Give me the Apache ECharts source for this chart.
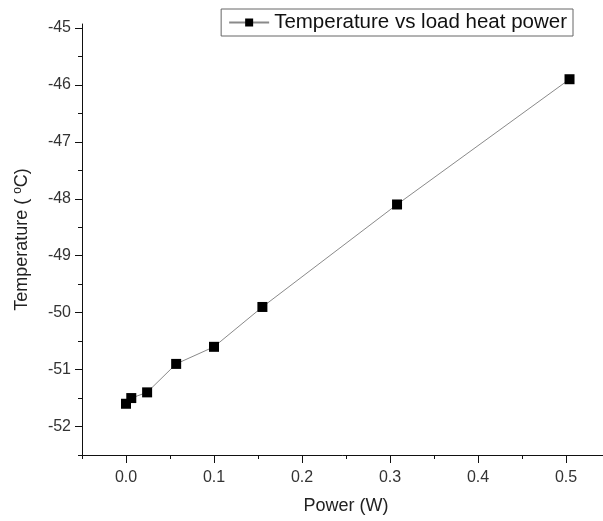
<!DOCTYPE html>
<html>
<head>
<meta charset="utf-8">
<script src="https://cdn.jsdelivr.net/npm/echarts@6/dist/echarts.min.js"></script>
<style>html,body{margin:0;padding:0;background:#fff;}#c{width:603px;height:521px;}</style>
</head>
<body>
<div id="c"></div>
<script>
const seriesName = 'Temperature vs load heat power';
const powerW = [0, 0.006, 0.024, 0.057, 0.1, 0.155, 0.308, 0.504];
const temperatureC = [-51.6, -51.5, -51.4, -50.9, -50.6, -49.9, -48.1, -45.9];
const xTickValues = [0, 0.1, 0.2, 0.3, 0.4, 0.5];
const xTickLabels = ['0.0', '0.1', '0.2', '0.3', '0.4', '0.5'];
const xMinorValues = [-0.05, 0.05, 0.15, 0.25, 0.35, 0.45, 0.55];
const yTickValues = [-52, -51, -50, -49, -48, -47, -46, -45];
const yTickLabels = ['-52', '-51', '-50', '-49', '-48', '-47', '-46', '-45'];
const yMinorValues = [-52.5, -51.5, -50.5, -49.5, -48.5, -47.5, -46.5, -45.5];

const points = powerW.map((p, i) => [p, temperatureC[i]]);
const font = 'Liberation Sans, Arial, sans-serif';
const X_MIN = -0.05, X_MAX = 0.55, Y_MIN = -52.5, Y_MAX = -44.93;

const axisCommon = {
  type: 'value',
  splitLine: {show: false},
  axisLine: {onZero: false, lineStyle: {color: '#111', width: 1}}
};

const chart = echarts.init(document.getElementById('c'), null, {renderer: 'canvas'});
chart.setOption({
  animation: false,
  backgroundColor: '#fff',
  grid: {left: 82, right: -7, top: 24, bottom: 66, outerBoundsMode: 'none'},
  legend: {
    right: 30, top: 9,
    padding: [3, 6, 3, 7],
    borderColor: '#666', borderWidth: 1,
    itemWidth: 40, itemHeight: 10,
    textStyle: {fontFamily: font, fontSize: 20.5, color: '#111'},
    data: [seriesName]
  },
  xAxis: [Object.assign({}, axisCommon, {
    min: X_MIN, max: X_MAX, position: 'bottom',
    name: 'Power (W)', nameLocation: 'middle', nameGap: 42,
    nameTextStyle: {fontFamily: font, fontSize: 18, color: '#222'},
    axisTick: {inside: false, length: 8, customValues: xTickValues, lineStyle: {color: '#111'}},
    axisLabel: {
      fontFamily: font, fontSize: 16, color: '#333', margin: 15,
      customValues: xTickValues,
      formatter: v => {
        const i = xTickValues.findIndex(t => Math.abs(t - v) < 1e-9);
        return i >= 0 ? xTickLabels[i] : '';
      }
    }
  }), Object.assign({}, axisCommon, {
    min: X_MIN, max: X_MAX, position: 'bottom', offset: 0,
    axisLine: {show: false, onZero: false},
    axisTick: {inside: false, length: 4, customValues: xMinorValues, lineStyle: {color: '#111'}},
    axisLabel: {show: false}
  })],
  yAxis: [Object.assign({}, axisCommon, {
    min: Y_MIN, max: Y_MAX, position: 'left',
    name: 'Temperature ( {s|o}C)', nameLocation: 'middle', nameGap: 50,
    nameTextStyle: {fontFamily: font, fontSize: 18, color: '#222',
      rich: {s: {fontFamily: font, fontSize: 12, color: '#222', verticalAlign: 'bottom', padding: [0, 0, 8, 0]}}},
    axisTick: {inside: false, length: 7, customValues: yTickValues, lineStyle: {color: '#111'}},
    axisLabel: {
      fontFamily: font, fontSize: 16, color: '#333', margin: 11,
      customValues: yTickValues,
      formatter: v => {
        const i = yTickValues.findIndex(t => Math.abs(t - v) < 1e-9);
        return i >= 0 ? yTickLabels[i] : '';
      }
    }
  }), Object.assign({}, axisCommon, {
    min: Y_MIN, max: Y_MAX, position: 'left', offset: 0,
    axisLine: {show: false, onZero: false},
    axisTick: {inside: false, length: 4, customValues: yMinorValues, lineStyle: {color: '#111'}},
    axisLabel: {show: false}
  })],
  series: [{
    name: seriesName,
    type: 'line',
    xAxisIndex: 0, yAxisIndex: 0,
    data: points,
    symbol: 'rect', symbolSize: 10,
    lineStyle: {color: '#8a8a8a', width: 1},
    itemStyle: {color: '#000'},
    z: 3
  }]
});
</script>
</body>
</html>
